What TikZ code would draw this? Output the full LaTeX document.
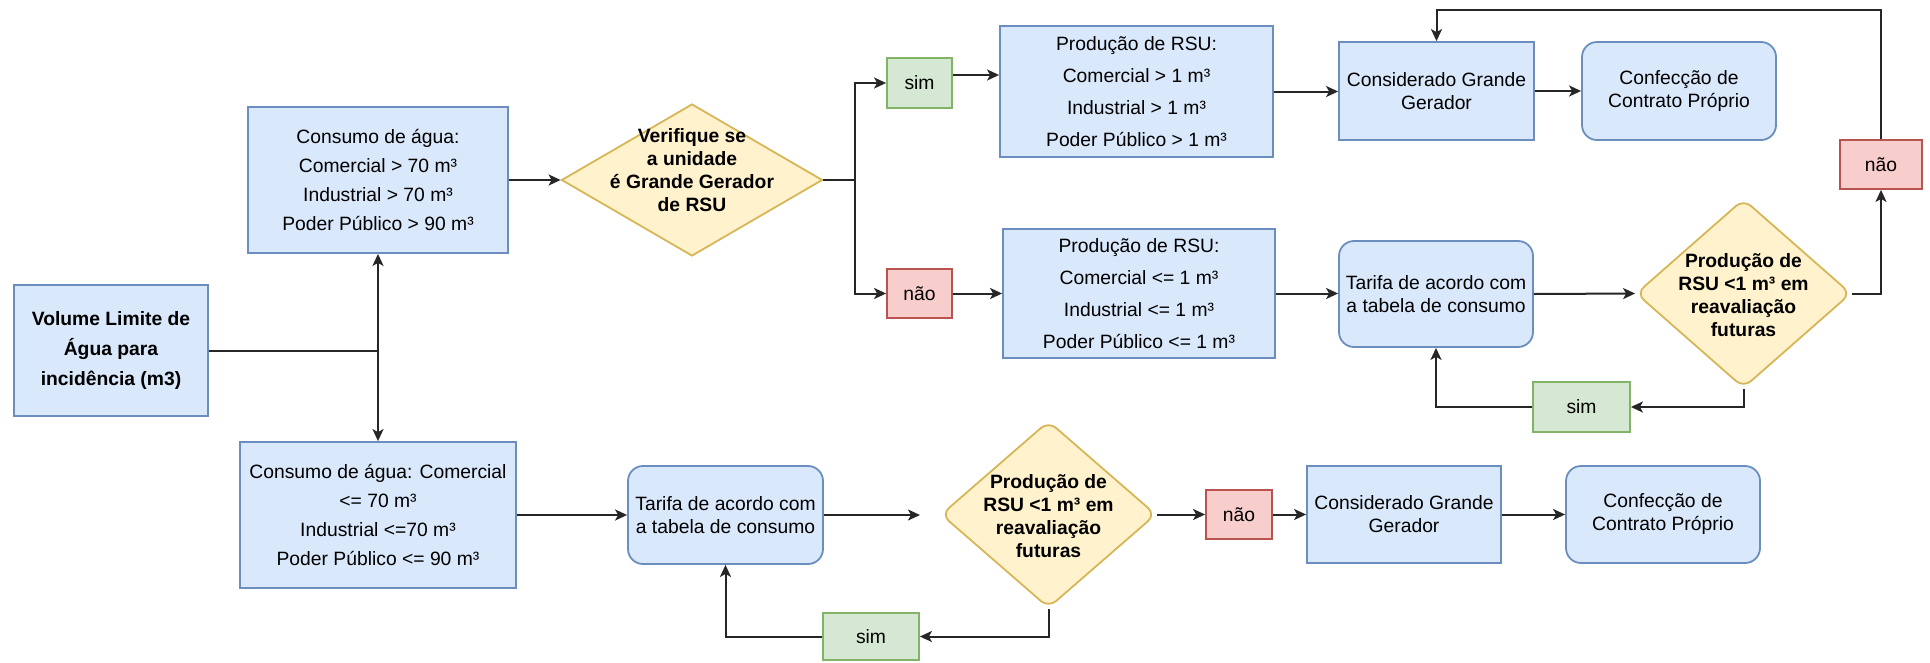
\documentclass[tikz,border=0pt]{standalone}
\usepackage{fontspec}
\setmainfont{Liberation Sans}
\usetikzlibrary{arrows.meta,shapes.geometric}
\definecolor{bfill}{HTML}{DAE8FC}\definecolor{bdraw}{HTML}{6C8EBF}
\definecolor{gfill}{HTML}{D5E8D4}\definecolor{gdraw}{HTML}{82B366}
\definecolor{rfill}{HTML}{F8CECC}\definecolor{rdraw}{HTML}{B85450}
\definecolor{yfill}{HTML}{FFF2CC}\definecolor{ydraw}{HTML}{D6B656}
\begin{document}
\begin{tikzpicture}[x=1pt,y=-1pt,
  base/.style={line width=1.8pt,inner sep=0pt,align=center,font=\fontsize{19.3}{23}\selectfont},
  box/.style={base,draw=bdraw,fill=bfill},
  rbox/.style={box,rounded corners=15pt},
  yesbox/.style={base,draw=gdraw,fill=gfill},
  nobox/.style={base,draw=rdraw,fill=rfill},
  dia/.style={base,diamond,draw=ydraw,fill=yfill},
  dtext/.style={inner sep=0pt,align=center,font=\fontsize{19.3}{23}\selectfont\bfseries},
  ln/.style={line width=2pt,draw=black!85},
  arr/.style={ln,-{Stealth[length=12pt,width=11pt,inset=3pt]}},
]
\useasboundingbox (0,0) rectangle (1930,662);

% left part
\node[box,minimum width=194pt,minimum height=131pt,font=\fontsize{19.3}{30}\selectfont\bfseries] (vol) at (111,350.5) {Volume Limite de\\Água para\\incidência (m3)};
\node[box,minimum width=260pt,minimum height=146pt,font=\fontsize{19.3}{29}\selectfont] (c1) at (378,180) {Consumo de água:\\Comercial > 70 m³\\Industrial > 70 m³\\Poder Público > 90 m³};
\node[box,minimum width=276pt,minimum height=146pt,font=\fontsize{19.3}{29}\selectfont] (c2) at (378,515) {Consumo de água: Comercial\\<= 70 m³\\Industrial <=70 m³\\Poder Público <= 90 m³};

% upper branch
\node[dia,minimum width=261pt,minimum height=152pt] (d1) at (692,180) {};
\node[dtext] (d1t) at (692,170) {Verifique se\\a unidade\\é Grande Gerador\\de RSU};
\node[yesbox,minimum width=65pt,minimum height=50pt] (sim1) at (919.5,83) {sim};
\node[nobox,minimum width=65pt,minimum height=49pt] (nao1) at (919.5,293.5) {não};
\node[box,minimum width=273pt,minimum height=131pt,font=\fontsize{19.3}{32}\selectfont] (p1) at (1136.5,91.5) {Produção de RSU:\\Comercial > 1 m³\\Industrial > 1 m³\\Poder Público > 1 m³};
\node[box,minimum width=272pt,minimum height=129pt,font=\fontsize{19.3}{32}\selectfont] (p2) at (1139,293.5) {Produção de RSU:\\Comercial <= 1 m³\\Industrial <= 1 m³\\Poder Público <= 1 m³};
\node[box,minimum width=195pt,minimum height=98pt] (cg1) at (1436.5,91) {Considerado Grande\\Gerador};
\node[rbox,minimum width=194pt,minimum height=98pt] (cf1) at (1679,91) {Confecção de\\Contrato Próprio};
\node[nobox,minimum width=82pt,minimum height=49pt] (nao2) at (1881,164.5) {não};
\node[rbox,minimum width=194pt,minimum height=106pt] (t2) at (1436,294) {Tarifa de acordo com\\a tabela de consumo};
\node[dia,rounded corners=10pt,minimum width=215pt,minimum height=189pt] (d2) at (1743.5,293.5) {};
\node[dtext] (d2t) at (1743.5,295) {Produção de\\RSU <1 m³ em\\reavaliação\\futuras};
\node[yesbox,minimum width=97pt,minimum height=50pt] (sim2) at (1581.5,407) {sim};

% lower branch
\node[rbox,minimum width=195pt,minimum height=98pt] (t3) at (725.5,515) {Tarifa de acordo com\\a tabela de consumo};
\node[dia,rounded corners=10pt,minimum width=215pt,minimum height=187pt] (d3) at (1048.5,514.5) {};
\node[dtext] (d3t) at (1048.5,516) {Produção de\\RSU <1 m³ em\\reavaliação\\futuras};
\node[nobox,minimum width=66pt,minimum height=49pt] (nao3) at (1239,514.5) {não};
\node[box,minimum width=194pt,minimum height=97pt] (cg2) at (1404,514.5) {Considerado Grande\\Gerador};
\node[rbox,minimum width=194pt,minimum height=97pt] (cf2) at (1663,514.5) {Confecção de\\Contrato Próprio};
\node[yesbox,minimum width=96pt,minimum height=47pt] (sim3) at (871,636.5) {sim};

% connectors
\coordinate (j) at (378,350.5);
\draw[ln] (vol.east) -- (j);
\draw[arr] (j) -- (c1.south);
\draw[arr] (j) -- (c2.north);
\draw[arr] (c1.east) -- (d1.west);
\coordinate (k) at (855,180);
\draw[ln] (d1.east) -- (k);
\draw[arr] (k) |- (sim1.west);
\draw[arr] (k) |- (nao1.west);
\draw[arr] ([yshift=8pt]sim1.east) -- ([yshift=8pt]sim1.east -| p1.west);
\draw[arr] (nao1.east) -- (nao1.east -| p2.west);
\draw[arr] (p1.east) -- (p1.east -| cg1.west);
\draw[arr] (cg1.east) -- (cf1.west);
\coordinate (top) at (1881,10);
\draw[arr] (nao2.north) -- (top) -| (cg1.north);
\draw[arr] (p2.east) -- (p2.east -| t2.west);
\draw[arr] (t2.east) -- (d2.west);
\draw[arr] (d2.east) -| (nao2.south);
\draw[arr] (d2.south) |- (sim2.east);
\draw[arr] (sim2.west) -| (t2.south);
\draw[arr] (c2.east) -- (c2.east -| t3.west);
\coordinate (g) at (920,515);
\draw[arr] (t3.east) -- (g);
\draw[arr] (d3.east) -- (nao3.west);
\draw[arr] (nao3.east) -- (cg2.west);
\draw[arr] (cg2.east) -- (cf2.west);
\draw[arr] (d3.south) |- (sim3.east);
\draw[arr] (sim3.west) -| (t3.south);
\end{tikzpicture}
\end{document}
